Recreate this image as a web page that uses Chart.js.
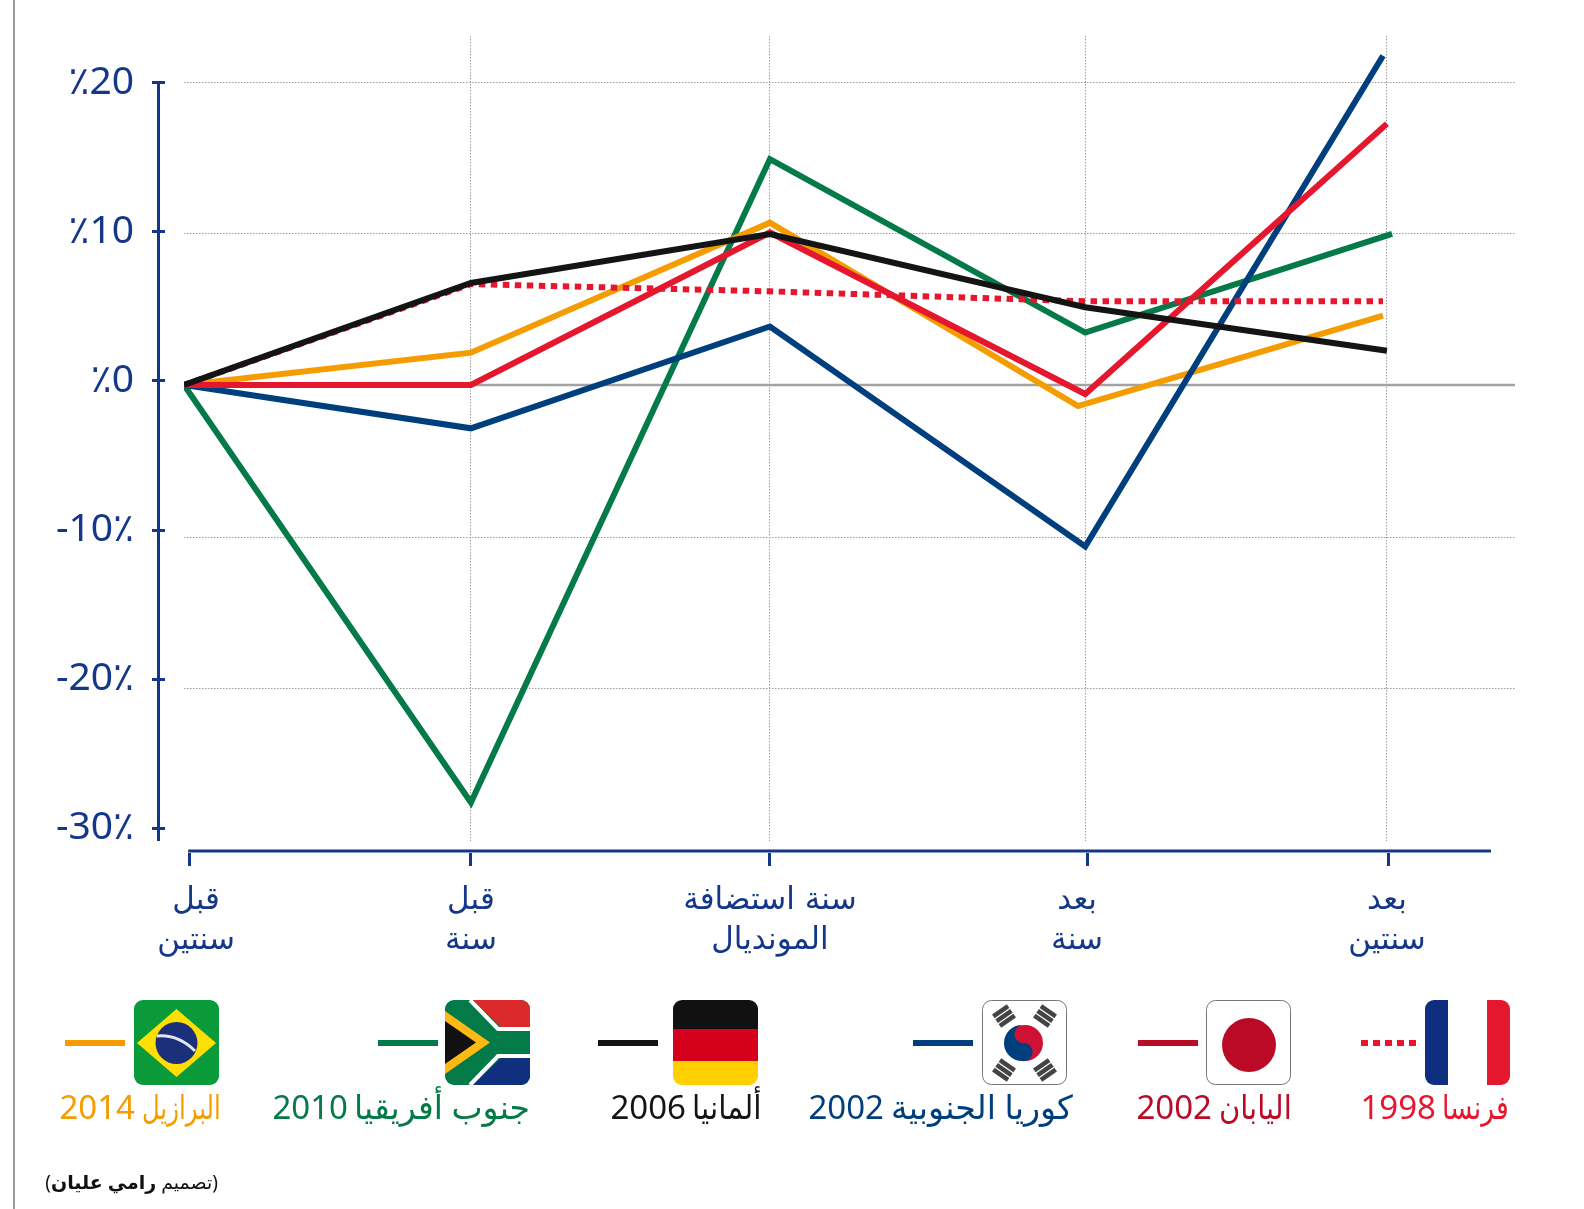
<!DOCTYPE html>
<html lang="ar">
<head>
<meta charset="utf-8">
<title>World Cup host economies</title>
<script src="https://cdn.jsdelivr.net/npm/chart.js@4"></script>
<style>
  html, body { margin: 0; padding: 0; background: #fff; }
  body { position: relative; width: 1584px; height: 1209px; overflow: hidden; font-family: 'Noto Sans', 'DejaVu Sans', sans-serif; }
  #chart { position: absolute; left: 0; top: 0; }
  .page-rule { position: absolute; left: 13px; top: 0; width: 2px; height: 1209px; background: #9a9a9a; }
  .flag { position: absolute; top: 1000px; width: 85px; height: 85px; }
  .swatch { position: absolute; top: 1039.5px; height: 6px; width: 60px; }
  .name, .year { position: absolute; top: 1086px; font-size: 33px; line-height: 42px; white-space: nowrap; }
  .name { direction: rtl; transform-origin: right center; }
  .credit { position: absolute; right: 1366px; top: 1168px; font-size: 19px; line-height: 28px; direction: rtl; white-space: nowrap; color: #111; }
</style>
</head>
<body>
<div class="page-rule"></div>
<canvas id="chart" width="1584" height="1209"></canvas>
<div id="legend"></div>
<div class="credit">(تصميم <b>رامي عليان</b>)</div>

<script>
const categories = [['قبل', 'سنتين'], ['قبل', 'سنة'], ['سنة استضافة', 'المونديال'], ['بعد', 'سنة'], ['بعد', 'سنتين']];
const yTickLabels = ['٪20', '٪10', '٪0', '-10٪', '-20٪', '-30٪'];

const xPoints = [0, 0.95, 1.94, 2.984, 3.983];
const xGrid = [0.95, 1.94, 2.984, 3.983];
const xTicksAxis = [0.017, 0.95, 1.94, 2.99, 3.987];
const xLabels = [0.04, 0.95, 1.94, 2.957, 3.983];
const xBrazil = [0, 0.95, 1.94, 2.96, 3.97];
const xKorea = [0, 0.95, 1.94, 2.984, 3.97];
const xFrance = [0, 0.95, 1.94, 2.984, 3.97];
const xSouthAfrica = [0, 0.95, 1.94, 2.984, 4.0];

const france = [0, 6.68, 6.2, 5.54, 5.54];
const japan = [0, 0, 10.1, -0.6, 17.3];
const korea = [0, -2.87, 3.87, -10.7, 21.8];
const germany = [0, 6.75, 10, 5.15, 2.27];
const southAfrica = [0, -27.65, 14.96, 3.47, 10];
const brazil = [0, 2.14, 10.75, -1.4, 4.6];

// the lower grid lines sit slightly off the round values in the original
const gridValues = [20, 10, -10.1, -20.1];
const axisValues = [20, 10, 0, -10, -20, -30];

const navy = '#14378a';
const toPoints = (xs, ys) => ys.map((y, i) => ({ x: xs[i], y }));

const line = (label, xs, ys, color, extra) => ({
  label,
  data: toPoints(xs, ys),
  borderColor: color,
  borderWidth: 6,
  pointRadius: 0,
  tension: 0,
  borderJoinStyle: 'miter',
  ...extra,
});

const blueAxes = {
  id: 'blueAxes',
  afterDraw(chart) {
    const { ctx, scales } = chart;
    ctx.save();
    ctx.strokeStyle = navy;
    ctx.lineWidth = 3;
    ctx.beginPath();
    ctx.moveTo(158.5, scales.y2.getPixelForValue(20));
    ctx.lineTo(158.5, scales.y.bottom);
    ctx.moveTo(scales.x2.getPixelForValue(xTicksAxis[0]) - 1, scales.x2.top - 2);
    ctx.lineTo(1491, scales.x2.top - 2);
    ctx.stroke();
    ctx.restore();
  },
};

new Chart(document.querySelector('#chart').getContext('2d'), {
  type: 'line',
  data: {
    datasets: [
      line('خط الصفر', [0, 4.407], [0, 0], '#a3a3a3', { borderWidth: 2.5, order: 7 }),
      line('جنوب أفريقيا 2010', xSouthAfrica, southAfrica, '#047a48', { order: 6 }),
      line('البرازيل 2014', xBrazil, brazil, '#f59c00', { order: 5 }),
      line('كوريا الجنوبية 2002', xKorea, korea, '#003f7d', { order: 4 }),
      line('فرنسا 1998', xFrance, france, '#e5172f', { order: 3, borderDash: [6.5, 5.5] }),
      line('اليابان 2002', xPoints, japan, '#e5172f', { order: 2 }),
      line('ألمانيا 2006', xPoints, germany, '#141414', { order: 1 }),
    ],
  },
  plugins: [blueAxes],
  options: {
    responsive: false,
    animation: false,
    layout: { padding: { top: 36, right: 69, left: 0, bottom: 0 } },
    plugins: { legend: { display: false }, tooltip: { enabled: false } },
    scales: {
      x: {
        type: 'linear',
        min: 0,
        max: 4.407,
        weight: 0,
        afterBuildTicks: (scale) => { scale.ticks = xGrid.map((value) => ({ value })); },
        afterFit: (scale) => { scale.height = 12; },
        ticks: { display: false },
        grid: { color: '#9c9c9c', lineWidth: 1, drawTicks: false },
        border: { display: false, dash: [1.5, 1.5] },
      },
      // tick marks of the blue axis
      x2: {
        type: 'linear',
        position: 'bottom',
        min: 0,
        max: 4.407,
        weight: 1,
        afterBuildTicks: (scale) => { scale.ticks = xTicksAxis.map((value) => ({ value })); },
        afterFit: (scale) => { scale.height = 0; },
        ticks: { display: false },
        grid: { drawOnChartArea: false, color: navy, lineWidth: 3, tickLength: 13 },
        border: { display: false },
      },
      // category labels, a few of them sit off their tick
      x3: {
        type: 'linear',
        position: 'bottom',
        min: 0,
        max: 4.407,
        weight: 2,
        afterBuildTicks: (scale) => { scale.ticks = xLabels.map((value) => ({ value })); },
        afterFit: (scale) => { scale.height = 356; },
        ticks: {
          autoSkip: false,
          maxRotation: 0,
          color: navy,
          padding: 20,
          font: { family: "'DejaVu Sans', sans-serif", size: 31, lineHeight: 1.28 },
          callback: (value, index) => categories[index],
        },
        grid: { display: false },
        border: { display: false },
      },
      y: {
        min: -30.2,
        max: 23.11,
        weight: 0,
        afterBuildTicks: (scale) => { scale.ticks = gridValues.map((value) => ({ value })); },
        afterFit: (scale) => { scale.width = 19; },
        ticks: { display: false },
        grid: { color: '#9c9c9c', lineWidth: 1, drawTicks: false },
        border: { display: false, dash: [1.5, 1.5] },
      },
      y2: {
        position: 'left',
        min: -30.872,
        max: 23.154,
        weight: 1,
        afterBuildTicks: (scale) => { scale.ticks = axisValues.map((value) => ({ value })); },
        afterFit: (scale) => {
          scale.width = 165;
          scale.paddingTop = 0;
          scale.paddingBottom = 0;
        },
        ticks: {
          autoSkip: false,
          color: navy,
          padding: 18,
          font: { family: "'Noto Sans', 'DejaVu Sans', sans-serif", size: 39 },
          callback: (value, index) => yTickLabels[index],
        },
        grid: { drawOnChartArea: false, color: navy, lineWidth: 3, tickLength: 13 },
        border: { display: false },
      },
    },
  },
});

// legend with the flags, built as plain html under the canvas
const clip = (id, body, stroke) => `<svg class="flag-svg" viewBox="0 0 85 85" width="85" height="85">
  <defs><clipPath id="${id}"><rect width="85" height="85" rx="9"/></clipPath></defs>
  <g clip-path="url(#${id})">${body}</g>
  ${stroke ? '<rect x=".5" y=".5" width="84" height="84" rx="9" fill="none" stroke="#777"/>' : ''}
</svg>`;

const trigram = (x, y, a) => `<g transform="translate(${x} ${y}) rotate(${a})" fill="#444">
  <rect x="-9" y="-8" width="18" height="4.5"/><rect x="-9" y="-2.2" width="18" height="4.5"/><rect x="-9" y="3.5" width="18" height="4.5"/></g>`;

const flags = {
  france: clip('fr', `<rect width="85" height="85" fill="#fff"/><rect width="23" height="85" fill="#0e2f7f"/><rect x="62" width="23" height="85" fill="#e5172f"/>`),
  japan: clip('jp', `<rect width="85" height="85" fill="#fff"/><circle cx="43" cy="45" r="27" fill="#bb0a26"/>`, true),
  korea: clip('kr', `<rect width="85" height="85" fill="#fff"/>${trigram(22, 16, -35)}${trigram(63, 16, 35)}${trigram(22, 70, 35)}${trigram(63, 70, -35)}
    <circle cx="43" cy="43" r="18" fill="#cf1233"/><path d="M40 25 A18 18 0 0 0 40 61 A9 9 0 0 0 43 43 A9 9 0 0 1 40 25Z" fill="#003f7d"/>`, true),
  germany: clip('de', `<rect width="85" height="29" fill="#111"/><rect y="29" width="85" height="32" fill="#d4001c"/><rect y="61" width="85" height="24" fill="#ffcf00"/>`),
  southAfrica: clip('za', `<rect width="85" height="85" fill="#047a48"/><path d="M28 0H85V29H58Z" fill="#dc2a2a"/><path d="M28 85H85V56H58Z" fill="#10307f"/>
    <path d="M25 0L53 29H85M25 85L53 56H85" fill="none" stroke="#fff" stroke-width="4"/><path d="M0 11L45 42.5 0 74Z" fill="#ffb915"/><path d="M0 21L31 42.5 0 64Z" fill="#111"/>`),
  brazil: clip('br', `<rect width="85" height="85" fill="#0a9a3a"/><path d="M42.5 9L82 43 42.5 77 3 43Z" fill="#ffdf00"/><circle cx="42.5" cy="43" r="21" fill="#1c2f7a"/>
    <path d="M23 36Q44 34 61 51" fill="none" stroke="#dfe6f0" stroke-width="3"/>`),
};

const legendItems = [
  { flag: 'france', name: 'فرنسا', year: 1998, color: '#e5172f', flagX: 1425, lineX: 1356, textRight: 1509, textWidth: 67, yearRight: 1436, dotted: true },
  { flag: 'japan', name: 'اليابان', year: 2002, color: '#bb0a26', flagX: 1206, lineX: 1138, textRight: 1292, textWidth: 73, yearRight: 1212 },
  { flag: 'korea', name: 'كوريا الجنوبية', year: 2002, color: '#003f7d', flagX: 982, lineX: 913, textRight: 1073, textWidth: 182, yearRight: 884 },
  { flag: 'germany', name: 'ألمانيا', year: 2006, color: '#141414', flagX: 673, lineX: 598, textRight: 762, textWidth: 70, yearRight: 686 },
  { flag: 'southAfrica', name: 'جنوب أفريقيا', year: 2010, color: '#047a48', flagX: 445, lineX: 378, textRight: 530, textWidth: 176, yearRight: 348 },
  { flag: 'brazil', name: 'البرازيل', year: 2014, color: '#f59c00', flagX: 134, lineX: 65, textRight: 221, textWidth: 79, yearRight: 135 },
];

document.querySelector('#legend').innerHTML = legendItems.map((item) => {
  const swatch = item.dotted
    ? `background: repeating-linear-gradient(90deg, ${item.color} 0 0.5px, transparent 0.5px 5.5px, ${item.color} 5.5px 12px);`
    : `background: ${item.color};`;
  return `<div class="flag" style="left:${item.flagX}px">${flags[item.flag]}</div>
    <div class="swatch" style="left:${item.lineX}px;${swatch}"></div>
    <div class="year" style="right:${1584 - item.yearRight}px;color:${item.color}">${item.year}</div>
    <div class="name" data-width="${item.textWidth}" style="right:${1584 - item.textRight}px;color:${item.color}">${item.name}</div>`;
}).join('');

// the arabic face here is wider than the original one, squeeze each name to its width
document.querySelectorAll('.name').forEach((el) => {
  el.style.transform = `scaleX(${el.dataset.width / el.offsetWidth})`;
});
</script>
</body>
</html>
